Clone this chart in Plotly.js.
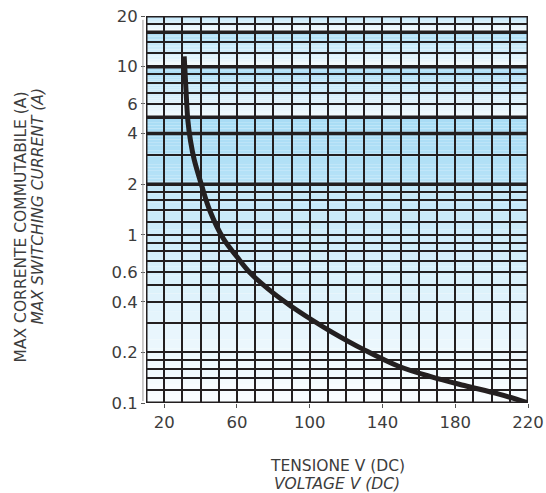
<!DOCTYPE html>
<html>
<head>
<meta charset="utf-8">
<script src="https://cdn.plot.ly/plotly-3.0.1.min.js"></script>
<style>body{margin:0;padding:0;background:#fff;} #chart{width:546px;height:493px;}</style>
</head>
<body>
<div id="chart"></div>
<script>
// ---- data ----
const voltage = [31, 32, 33, 34.5, 36.5, 40.4, 45, 52.5, 60, 67.5, 80, 90, 100, 111.7, 130, 148.5, 167, 185, 204, 220];
const current = [11.5, 7.2, 4.8, 3.6, 2.8, 2.0, 1.4, 0.95, 0.74, 0.59, 0.45, 0.375, 0.318, 0.266, 0.207, 0.166, 0.143, 0.127, 0.113, 0.1];

const xTickVals = [20, 60, 100, 140, 180, 220];
const yTickVals = [0.1, 0.2, 0.4, 0.6, 1, 2, 4, 6, 10, 20];
const yTickText = ["0.1", "0.2", "0.4", "0.6", "1", "2", "4", "6", "10", "20"];
const xGridVals = [10,20,30,40,50,60,70,80,90,100,110,120,130,140,150,160,170,180,190,200,210,220];
const yGridVals = [0.1,0.12,0.14,0.16,0.18,0.2,0.3,0.4,0.5,0.6,0.7,0.8,0.9,1,1.2,1.4,1.6,1.8,2,3,4,5,6,7,8,9,10,12,14,16,18,20];
const yThickVals = [16, 10, 5, 4, 2];
const yTitleLines = ['MAX CORRENTE COMMUTABILE (A)', '<i>MAX SWITCHING CURRENT (A)</i>'];
const xTitleLines = ['TENSIONE V (DC)', '<i>VOLTAGE V (DC)</i>'];

// ---- styling ----
const ink = '#231f20';
const blue = [168, 220, 245];
const white = [250, 253, 255];
const bands = [
  [20, 16, [178, 224, 247], white],
  [16, 10, blue, [245, 251, 254]],
  [10, 5, blue, [245, 251, 254]],
  [5, 2, [168, 220, 245], [182, 226, 247]],
  [2, 0.1, [194, 231, 248], white]
];
function mix(a, b, t) {
  return 'rgb(' + a.map((v, i) => Math.round(v + (b[i] - v) * t)).join(',') + ')';
}
const shapes = [];
bands.forEach(b => {
  const n = 24;
  const lt = Math.log10(b[0]), lb = Math.log10(b[1]);
  for (let i = 0; i < n; i++) {
    const y0 = Math.pow(10, lt + (lb - lt) * i / n);
    const y1 = Math.pow(10, lt + (lb - lt) * (i + 1) / n);
    shapes.push({type: 'rect', xref: 'x', yref: 'y', x0: 10, x1: 220, y0: y0, y1: y1,
      fillcolor: mix(b[2], b[3], (i + 0.5) / n), line: {width: 0}, layer: 'below'});
  }
});
yThickVals.forEach(v => shapes.push({type: 'line', xref: 'x', yref: 'y', x0: 10, x1: 220, y0: v, y1: v,
  line: {color: ink, width: 3.5}, layer: 'between'}));
shapes.push({type: 'rect', xref: 'x', yref: 'y', x0: 10, x1: 220, y0: 0.1, y1: 20,
  line: {color: ink, width: 3}, layer: 'between'});
shapes.push({type: 'line', xref: 'paper', yref: 'paper', x0: -0.008, x1: -0.008, y0: 0.005, y1: 0.99,
  line: {color: '#9a9a9a', width: 1}, layer: 'above'});

const fam = '"DejaVu Sans", sans-serif';
const txt = '#3c3c3c';

const trace = {
  x: voltage, y: current, type: 'scatter', mode: 'lines',
  line: {color: ink, width: 5, shape: 'spline', smoothing: 1},
  hoverinfo: 'skip'
};

const annotations = [
  {text: yTitleLines[0], xref: 'paper', yref: 'paper', x: -0.3285, y: 0.455, textangle: -90,
   xanchor: 'center', yanchor: 'middle', showarrow: false, font: {family: fam, size: 15.5, color: txt}},
  {text: yTitleLines[1], xref: 'paper', yref: 'paper', x: -0.283, y: 0.51, textangle: -90,
   xanchor: 'center', yanchor: 'middle', showarrow: false, font: {family: fam, size: 15.5, color: txt}},
  {text: xTitleLines[0], xref: 'paper', yref: 'paper', x: 0.5, y: -0.162,
   xanchor: 'center', yanchor: 'middle', showarrow: false, font: {family: fam, size: 15.5, color: txt}},
  {text: xTitleLines[1], xref: 'paper', yref: 'paper', x: 0.5, y: -0.209,
   xanchor: 'center', yanchor: 'middle', showarrow: false, font: {family: fam, size: 15.5, color: txt}}
];

const layout = {
  width: 546, height: 493,
  margin: {l: 146, r: 18, t: 16, b: 90},
  paper_bgcolor: '#ffffff', plot_bgcolor: '#ffffff',
  showlegend: false,
  font: {family: fam, color: txt},
  xaxis: {
    range: [10, 220], type: 'linear',
    tickvals: xTickVals, ticktext: xTickVals.map(String),
    ticks: 'outside', ticklen: 4, tickwidth: 1, tickcolor: '#555',
    tickfont: {family: fam, size: 16.5, color: txt},
    showgrid: false, zeroline: false, showline: false,
    minor: {tickvals: xGridVals, showgrid: true, gridcolor: ink, gridwidth: 2, ticks: ''}
  },
  yaxis: {
    type: 'log', range: [Math.log10(0.1), Math.log10(20)],
    tickvals: yTickVals, ticktext: yTickText,
    ticks: 'outside', ticklen: 4, tickwidth: 1, tickcolor: '#555',
    tickfont: {family: fam, size: 16.5, color: txt},
    showgrid: false, zeroline: false, showline: false,
    minor: {tickvals: yGridVals, showgrid: true, gridcolor: ink, gridwidth: 2, ticks: ''}
  },
  annotations: annotations,
  shapes: shapes
};

Plotly.newPlot('chart', [trace], layout, {displayModeBar: false, staticPlot: true});
</script>
</body>
</html>
